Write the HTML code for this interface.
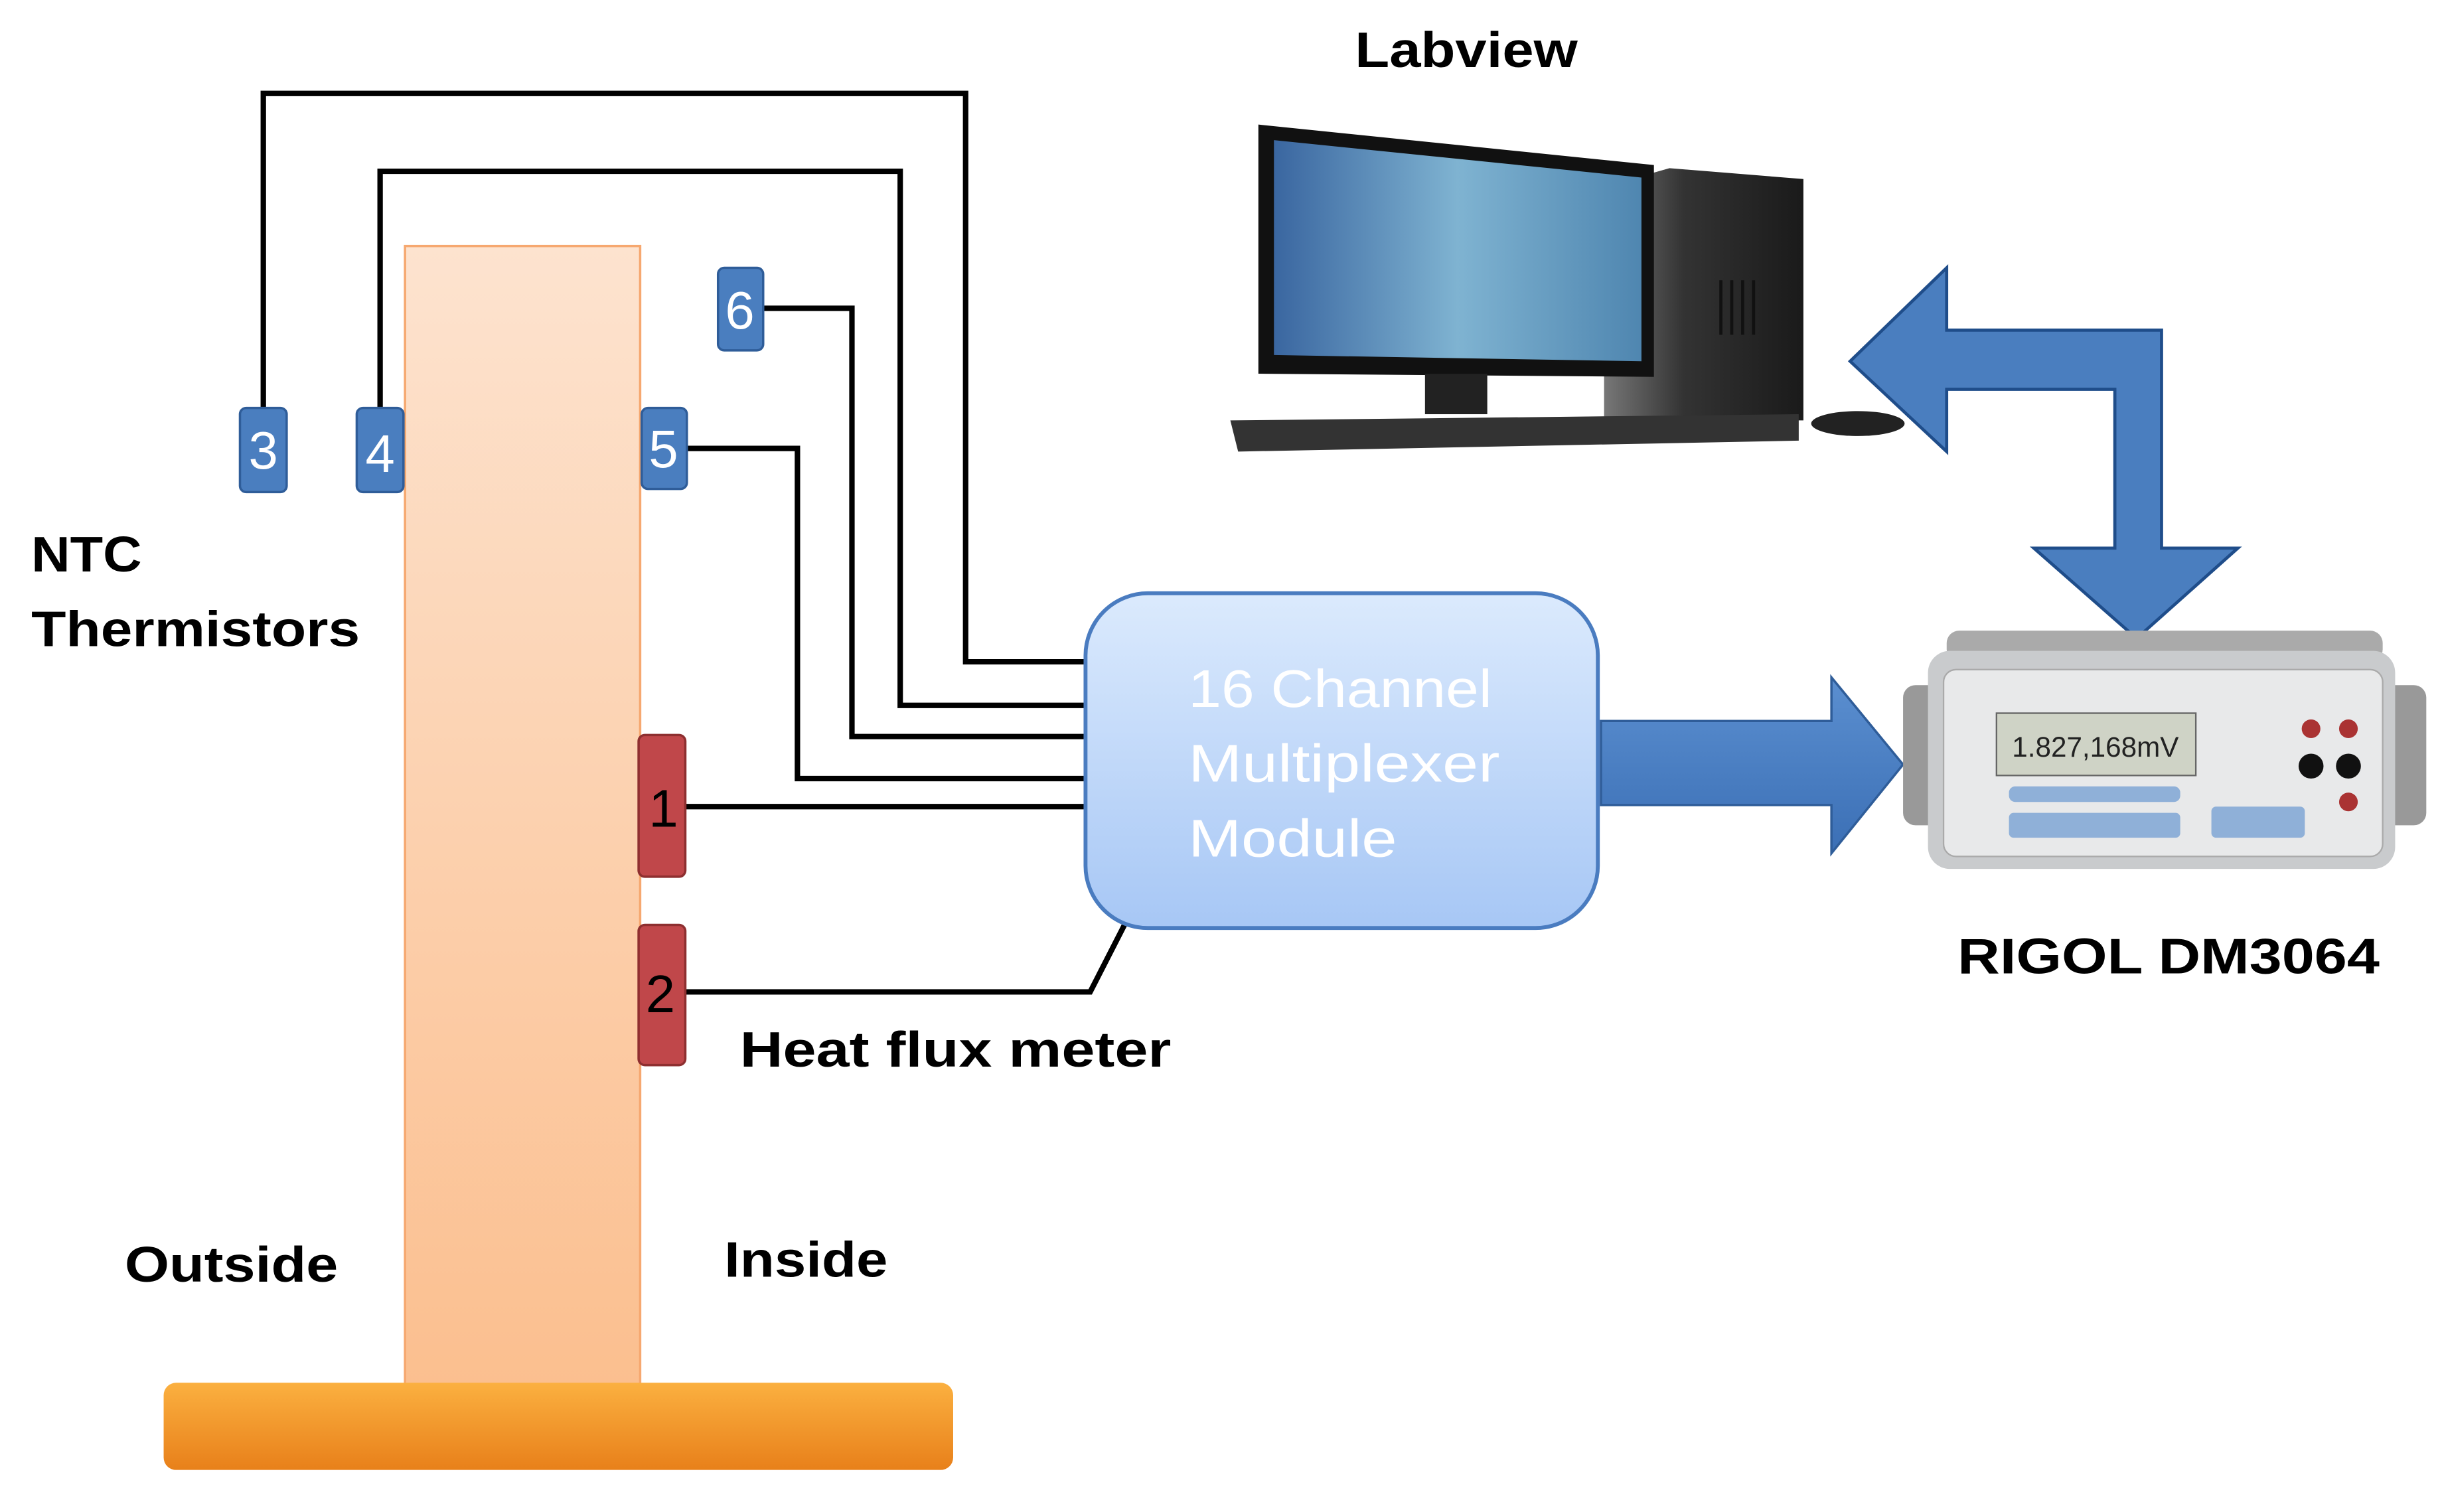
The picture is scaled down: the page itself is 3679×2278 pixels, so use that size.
<!DOCTYPE html>
<html><head><style>html,body{margin:0;padding:0;background:#fff}svg{display:block}</style></head><body>
<svg width="3679" height="2278" viewBox="0 0 1568 971" xmlns="http://www.w3.org/2000/svg" font-family="Liberation Sans, sans-serif">
<defs>
<linearGradient id="wall" x1="0" y1="0" x2="0" y2="1"><stop offset="0" stop-color="#fde3cf"/><stop offset="1" stop-color="#fbbf8f"/></linearGradient>
<linearGradient id="base" x1="0" y1="0" x2="0" y2="1"><stop offset="0" stop-color="#fbb040"/><stop offset="1" stop-color="#e8801a"/></linearGradient>
<linearGradient id="mux" x1="0" y1="0" x2="0" y2="1"><stop offset="0" stop-color="#dbeafd"/><stop offset="1" stop-color="#a7c7f5"/></linearGradient>
<linearGradient id="scr" x1="0" y1="0" x2="1" y2="0"><stop offset="0" stop-color="#3a66a0"/><stop offset="0.5" stop-color="#7fb3d1"/><stop offset="1" stop-color="#4f86b0"/></linearGradient>
<linearGradient id="blu" x1="0" y1="0" x2="0" y2="1"><stop offset="0" stop-color="#5b8fd0"/><stop offset="1" stop-color="#3b6fb5"/></linearGradient>
<linearGradient id="tow" x1="0" y1="0" x2="1" y2="0"><stop offset="0" stop-color="#777"/><stop offset="0.4" stop-color="#333"/><stop offset="1" stop-color="#1a1a1a"/></linearGradient>
</defs>
<rect x="260" y="158" width="151" height="732" fill="url(#wall)" stroke="#f6a870" stroke-width="1.5"/>
<rect x="105" y="888" width="507" height="56" rx="8" fill="url(#base)"/>
<g fill="none" stroke="#000" stroke-width="3.5">
<polyline points="169,262 169,60 620,60 620,425 697,425"/>
<polyline points="244,262 244,110 578,110 578,453 697,453"/>
<polyline points="490,198 547,198 547,473 697,473"/>
<polyline points="441,288 512,288 512,500 697,500"/>
<polyline points="440,518 697,518"/>
<polyline points="440,637 700,637 722,594"/>
</g>
<g fill="#4a7ebf" stroke="#2f5d99" stroke-width="1.5">
<rect x="154" y="262" width="30" height="54" rx="4"/>
<rect x="229" y="262" width="30" height="54" rx="4"/>
<rect x="412" y="262" width="29" height="52" rx="4"/>
<rect x="461" y="172" width="29" height="53" rx="4"/>
</g>
<g fill="#c0474a" stroke="#8e2f30" stroke-width="1.5">
<rect x="410" y="472" width="30" height="91" rx="4"/>
<rect x="410" y="594" width="30" height="90" rx="4"/>
</g>
<g fill="#fff" font-size="34" text-anchor="middle">
<text x="169" y="301">3</text><text x="244" y="303">4</text><text x="426" y="300">5</text><text x="475" y="211">6</text>
</g>
<g fill="#000" font-size="34" text-anchor="middle">
<text x="426" y="531">1</text><text x="424" y="650">2</text>
</g>
<rect x="697" y="381" width="329" height="215" rx="40" fill="url(#mux)" stroke="#4a7cc0" stroke-width="2.5"/>
<g fill="#fff" font-size="34" lengthAdjust="spacingAndGlyphs"><text x="763" y="454" textLength="195" lengthAdjust="spacingAndGlyphs">16 Channel</text><text x="763" y="502" textLength="200" lengthAdjust="spacingAndGlyphs">Multiplexer</text><text x="763" y="550" textLength="134" lengthAdjust="spacingAndGlyphs">Module</text></g>
<polygon points="1028,463 1176,463 1176,435 1222,491 1176,548 1176,517 1028,517" fill="url(#blu)" stroke="#2f5d99" stroke-width="1.5"/>
<polygon points="1188,232 1250,172 1250,212 1388,212 1388,352 1437,352 1372,410 1306,352 1358,352 1358,250 1250,250 1250,290" fill="#4a7ebf" stroke="#1f4d8a" stroke-width="2"/>
<polygon points="1030,120 1072,108 1158,115 1158,270 1030,270" fill="url(#tow)"/>
<g stroke="#111" stroke-width="2"><line x1="1105" y1="180" x2="1105" y2="215"/><line x1="1112" y1="180" x2="1112" y2="215"/><line x1="1119" y1="180" x2="1119" y2="215"/><line x1="1126" y1="180" x2="1126" y2="215"/></g>
<polygon points="808,80 1062,106 1062,242 808,240" fill="#111"/>
<polygon points="818,90 1054,114 1054,232 818,228" fill="url(#scr)"/>
<rect x="915" y="240" width="40" height="26" fill="#222"/>
<polygon points="790,270 1155,266 1155,283 795,290" fill="#333"/>
<ellipse cx="1193" cy="272" rx="30" ry="8" fill="#222"/>
<rect x="1250" y="405" width="280" height="20" rx="8" fill="#aaa"/>
<rect x="1222" y="440" width="30" height="90" rx="8" fill="#999"/>
<rect x="1530" y="440" width="28" height="90" rx="8" fill="#999"/>
<rect x="1238" y="418" width="300" height="140" rx="14" fill="#c9cbcd"/>
<rect x="1248" y="430" width="282" height="120" rx="8" fill="#e8e9ea" stroke="#aaa"/>
<rect x="1282" y="458" width="128" height="40" fill="#cfd3c6" stroke="#666"/>
<text x="1292" y="486" font-size="18" fill="#222">1.827,168mV</text>
<circle cx="1484" cy="492" r="8" fill="#111"/><circle cx="1508" cy="492" r="8" fill="#111"/>
<circle cx="1484" cy="468" r="6" fill="#a33"/><circle cx="1508" cy="468" r="6" fill="#a33"/><circle cx="1508" cy="515" r="6" fill="#a33"/>
<g fill="#8fb0d8"><rect x="1290" y="505" width="110" height="10" rx="4"/><rect x="1290" y="522" width="110" height="16" rx="3"/><rect x="1420" y="518" width="60" height="20" rx="3"/></g>
<g fill="#000" font-size="32" font-weight="bold">
<text x="870" y="43" textLength="143" lengthAdjust="spacingAndGlyphs">Labview</text>
<text x="20" y="367" textLength="71" lengthAdjust="spacingAndGlyphs">NTC</text><text x="20" y="415" textLength="211" lengthAdjust="spacingAndGlyphs">Thermistors</text>
<text x="475" y="685" textLength="277" lengthAdjust="spacingAndGlyphs">Heat flux meter</text>
<text x="1257" y="625" textLength="271" lengthAdjust="spacingAndGlyphs">RIGOL DM3064</text>
<text x="80" y="823" textLength="137" lengthAdjust="spacingAndGlyphs">Outside</text><text x="465" y="820" textLength="105" lengthAdjust="spacingAndGlyphs">Inside</text>
</g>
</svg>
</body></html>
